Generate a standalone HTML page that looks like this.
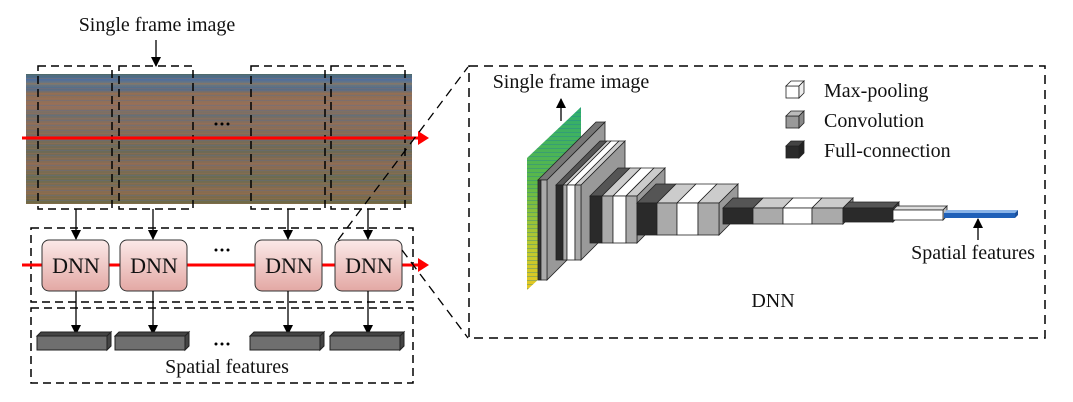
<!DOCTYPE html>
<html><head><meta charset="utf-8"><style>
html,body{margin:0;padding:0;background:#fff;width:1073px;height:402px;overflow:hidden}
text{font-family:"Liberation Serif",serif;fill:#111}
</style></head><body>
<svg width="1073" height="402" viewBox="0 0 1073 402" xmlns="http://www.w3.org/2000/svg">
<defs>
<linearGradient id="img" x1="0" y1="0" x2="0" y2="1">
<stop offset="0" stop-color="#4f6a66"/>
<stop offset="0.04" stop-color="#4a6ea0"/>
<stop offset="0.08" stop-color="#7a7a70"/>
<stop offset="0.11" stop-color="#4c6c90"/>
<stop offset="0.15" stop-color="#8c6f55"/>
<stop offset="0.25" stop-color="#94705a"/>
<stop offset="0.32" stop-color="#6e6f6a"/>
<stop offset="0.38" stop-color="#8a6e5a"/>
<stop offset="0.5" stop-color="#7a6c58"/>
<stop offset="0.6" stop-color="#6d6a55"/>
<stop offset="0.7" stop-color="#8c6c55"/>
<stop offset="0.8" stop-color="#6a6c50"/>
<stop offset="0.9" stop-color="#8a6c50"/>
<stop offset="1" stop-color="#6b6a45"/>
</linearGradient>
<pattern id="str" width="10" height="5" patternUnits="userSpaceOnUse">
<rect width="10" height="1" fill="rgba(90,110,150,0.35)"/>
<rect y="3" width="10" height="1" fill="rgba(170,110,80,0.3)"/>
</pattern>
<linearGradient id="grn" x1="0" y1="0" x2="0" y2="1">
<stop offset="0" stop-color="#2fae6e"/>
<stop offset="0.4" stop-color="#5cb848"/>
<stop offset="0.75" stop-color="#b9c930"/>
<stop offset="1" stop-color="#e8c820"/>
</linearGradient>
<pattern id="gstr" width="6" height="4" patternUnits="userSpaceOnUse">
<rect width="6" height="1" fill="rgba(30,120,160,0.35)"/>
</pattern>
<linearGradient id="dnn" x1="0" y1="0" x2="0" y2="1">
<stop offset="0" stop-color="#fbe9e8"/>
<stop offset="1" stop-color="#e3a8a4"/>
</linearGradient>
<marker id="ah" markerWidth="10" markerHeight="10" refX="9" refY="5" orient="auto" markerUnits="userSpaceOnUse">
<path d="M0,0 L10,5 L0,10 Z" fill="#000"/>
</marker>
</defs>

<!-- left top -->
<text x="157" y="31" font-size="20" text-anchor="middle">Single frame image</text>
<line x1="156" y1="40" x2="156" y2="66" stroke="#000" stroke-width="1.3" marker-end="url(#ah)"/>
<rect x="26" y="74" width="386" height="130" fill="url(#img)"/>
<rect x="26" y="74" width="386" height="130" fill="url(#str)"/>
<g fill="none" stroke="#000" stroke-width="1.5" stroke-dasharray="8,5">
<rect x="38" y="66" width="74" height="143"/>
<rect x="119" y="66" width="74" height="143"/>
<rect x="251" y="66" width="74" height="143"/>
<rect x="331" y="66" width="74" height="143"/>
</g>
<g fill="#000"><circle cx="216" cy="124" r="1.5"/><circle cx="222" cy="124" r="1.5"/><circle cx="228" cy="124" r="1.5"/></g>
<line x1="22" y1="138" x2="420" y2="138" stroke="#f00" stroke-width="3"/>
<path d="M418,131 L429,138 L418,145 Z" fill="#f00"/>

<g stroke="#000" stroke-width="1.3" marker-end="url(#ah)">
<line x1="76" y1="209" x2="76" y2="239"/>
<line x1="153" y1="209" x2="153" y2="239"/>
<line x1="288" y1="209" x2="288" y2="239"/>
<line x1="368" y1="209" x2="368" y2="239"/>
</g>
<rect x="31" y="228" width="382" height="74" fill="none" stroke="#000" stroke-width="1.5" stroke-dasharray="8,5"/>
<line x1="22" y1="265" x2="420" y2="265" stroke="#f00" stroke-width="3"/>
<path d="M418,258 L429,265 L418,272 Z" fill="#f00"/>
<g fill="url(#dnn)" stroke="#333" stroke-width="1">
<rect x="42" y="240" width="67" height="51" rx="7"/>
<rect x="120" y="240" width="67" height="51" rx="7"/>
<rect x="255" y="240" width="67" height="51" rx="7"/>
<rect x="335" y="240" width="67" height="51" rx="7"/>
</g>
<g font-size="22" text-anchor="middle">
<text x="76" y="273">DNN</text><text x="154" y="273">DNN</text>
<text x="289" y="273">DNN</text><text x="369" y="273">DNN</text>
</g>
<g fill="#000"><circle cx="216" cy="250" r="1.5"/><circle cx="222" cy="250" r="1.5"/><circle cx="228" cy="250" r="1.5"/></g>

<g stroke="#000" stroke-width="1.3" marker-end="url(#ah)">
<line x1="76" y1="291" x2="76" y2="334"/>
<line x1="153" y1="291" x2="153" y2="334"/>
<line x1="288" y1="291" x2="288" y2="334"/>
<line x1="368" y1="291" x2="368" y2="334"/>
</g>
<rect x="31" y="308" width="382" height="75" fill="none" stroke="#000" stroke-width="1.5" stroke-dasharray="8,5"/>
<g fill="#6f6f6f" stroke="#222" stroke-width="1">
<rect x="37" y="336" width="70" height="14"/><path d="M107,336 L111,332 L111,346 L107,350Z M37,336 L41,332 L111,332 L107,336Z" fill="#444"/>
<rect x="115" y="336" width="70" height="14"/><path d="M185,336 L189,332 L189,346 L185,350Z M115,336 L119,332 L189,332 L185,336Z" fill="#444"/>
<rect x="250" y="336" width="70" height="14"/><path d="M320,336 L324,332 L324,346 L320,350Z M250,336 L254,332 L324,332 L320,336Z" fill="#444"/>
<rect x="330" y="336" width="70" height="14"/><path d="M400,336 L404,332 L404,346 L400,350Z M330,336 L334,332 L404,332 L400,336Z" fill="#444"/>
</g>
<g fill="#000"><circle cx="216" cy="344" r="1.5"/><circle cx="222" cy="344" r="1.5"/><circle cx="228" cy="344" r="1.5"/></g>
<text x="227" y="373" font-size="20" text-anchor="middle">Spatial features</text>

<!-- connectors -->
<g stroke="#000" stroke-width="1.3" stroke-dasharray="9,6" fill="none">
<line x1="338" y1="240" x2="468" y2="67"/>
<line x1="402" y1="250" x2="468" y2="338"/>
</g>
<rect x="469" y="66" width="576" height="272" fill="none" stroke="#000" stroke-width="1.5" stroke-dasharray="9,6"/>

<text x="571" y="88" font-size="20" text-anchor="middle">Single frame image</text>
<line x1="561" y1="121" x2="561" y2="99" stroke="#000" stroke-width="1.3" marker-end="url(#ah)"/>

<!-- green image -->
<polygon points="527,158 581,107 581,240 527,290" fill="url(#grn)"/>
<polygon points="527,158 581,107 581,240 527,290" fill="url(#gstr)"/>

<g stroke="#222" stroke-width="0.8">
<polygon points="547,180 605,122 605,222 547,280" fill="#999"/>
<polygon points="538,180 596,122 605,122 547,180" fill="#777"/>
<rect x="538" y="180" width="3" height="100" fill="#333"/>
<rect x="541" y="180" width="6" height="100" fill="#aaa"/>
<polygon points="581,185 625,141 625,216 581,260" fill="#999"/>
<polygon points="556,185 600,141 607,141 563,185" fill="#555"/>
<polygon points="563,185 607,141 611,141 567,185" fill="#ccc"/>
<polygon points="567,185 611,141 619,141 575,185" fill="#fff"/>
<polygon points="575,185 619,141 625,141 581,185" fill="#ccc"/>
<rect x="556" y="185" width="7" height="75" fill="#2a2a2a"/>
<rect x="563" y="185" width="4" height="75" fill="#aaa"/>
<rect x="567" y="185" width="8" height="75" fill="#fff"/>
<rect x="575" y="185" width="6" height="75" fill="#aaa"/>
<polygon points="637,196 665,168 665,215 637,243" fill="#999"/>
<polygon points="590,196 618,168 630,168 602,196" fill="#555"/>
<polygon points="602,196 630,168 641,168 613,196" fill="#ccc"/>
<polygon points="613,196 641,168 654,168 626,196" fill="#fff"/>
<polygon points="626,196 654,168 665,168 637,196" fill="#ccc"/>
<rect x="590" y="196" width="12" height="47" fill="#2a2a2a"/>
<rect x="602" y="196" width="11" height="47" fill="#aaa"/>
<rect x="613" y="196" width="13" height="47" fill="#fff"/>
<rect x="626" y="196" width="11" height="47" fill="#aaa"/>
<polygon points="719,203 738,184 738,216 719,235" fill="#999"/>
<polygon points="637,203 656,184 676,184 657,203" fill="#555"/>
<polygon points="657,203 676,184 696,184 677,203" fill="#ccc"/>
<polygon points="677,203 696,184 717,184 698,203" fill="#fff"/>
<polygon points="698,203 717,184 738,184 719,203" fill="#ccc"/>
<rect x="637" y="203" width="20" height="32" fill="#2a2a2a"/>
<rect x="657" y="203" width="20" height="32" fill="#aaa"/>
<rect x="677" y="203" width="21" height="32" fill="#fff"/>
<rect x="698" y="203" width="21" height="32" fill="#aaa"/>
<polygon points="843,208 853,198 853,214 843,224" fill="#999"/>
<polygon points="723,208 733,198 763,198 753,208" fill="#555"/>
<polygon points="753,208 763,198 793,198 783,208" fill="#ccc"/>
<polygon points="783,208 793,198 822,198 812,208" fill="#fff"/>
<polygon points="812,208 822,198 853,198 843,208" fill="#ccc"/>
<rect x="723" y="208" width="30" height="16" fill="#2a2a2a"/>
<rect x="753" y="208" width="30" height="16" fill="#aaa"/>
<rect x="783" y="208" width="29" height="16" fill="#fff"/>
<rect x="812" y="208" width="31" height="16" fill="#aaa"/>
<polygon points="843,208 849,202 899,202 893,208" fill="#555"/>
<polygon points="893,208 899,202 899,216 893,222" fill="#444"/>
<rect x="843" y="208" width="50" height="14" fill="#2a2a2a"/>
<polygon points="893,210 897,206 947,206 943,210" fill="#ddd"/>
<polygon points="943,210 947,206 947,216 943,220" fill="#bbb"/>
<rect x="893" y="210" width="50" height="10" fill="#fff"/>
</g>
<polygon points="944,213 947,210 1018,210 1015,213" fill="#8ab4e8"/>
<polygon points="1015,213 1018,210 1018,215 1015,218" fill="#1a4f9a"/>
<rect x="944" y="213" width="71" height="5" fill="#1f60b8"/>
<line x1="978" y1="240" x2="978" y2="219" stroke="#000" stroke-width="1.3" marker-end="url(#ah)"/>
<text x="973" y="259" font-size="20" text-anchor="middle">Spatial features</text>

<text x="773" y="307" font-size="20" text-anchor="middle">DNN</text>

<!-- legend -->
<g stroke="#222" stroke-width="0.8">
<rect x="786" y="86" width="13" height="12" fill="#fff"/><path d="M786,86 L791,81 L804,81 L799,86Z" fill="#fff"/><path d="M799,86 L804,81 L804,93 L799,98Z" fill="#eee"/>
<rect x="786" y="116" width="13" height="12" fill="#999"/><path d="M786,116 L791,111 L804,111 L799,116Z" fill="#bbb"/><path d="M799,116 L804,111 L804,123 L799,128Z" fill="#888"/>
<rect x="786" y="146" width="13" height="12" fill="#2a2a2a"/><path d="M786,146 L791,141 L804,141 L799,146Z" fill="#444"/><path d="M799,146 L804,141 L804,153 L799,158Z" fill="#222"/>
</g>
<text x="824" y="97" font-size="20">Max-pooling</text>
<text x="824" y="127" font-size="20">Convolution</text>
<text x="824" y="157" font-size="20">Full-connection</text>
</svg>
</body></html>
